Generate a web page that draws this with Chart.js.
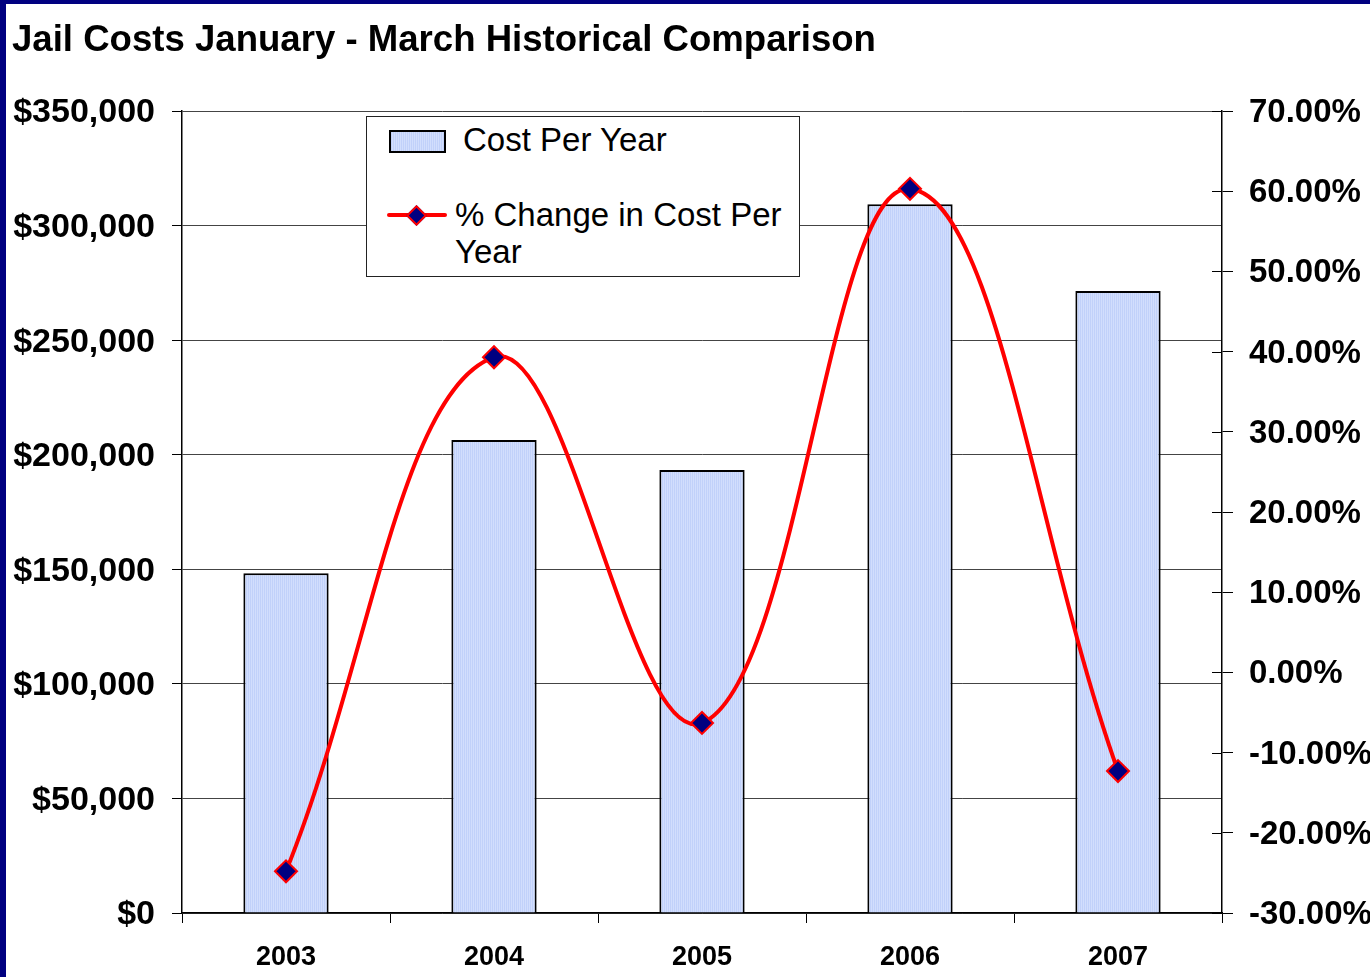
<!DOCTYPE html>
<html>
<head>
<meta charset="utf-8">
<title>Jail Costs January - March Historical Comparison</title>
<script src="https://cdn.jsdelivr.net/npm/chart.js@4.4.1/dist/chart.umd.min.js"></script>
<style>
    html, body { margin: 0; padding: 0; }
    body {
        width: 1370px;
        height: 977px;
        background: #000080;
        position: relative;
        overflow: hidden;
        font-family: "Liberation Sans", Arial, sans-serif;
    }
    #frame {
        position: absolute;
        left: 6px;
        top: 4px;
        width: 1364px;
        height: 973px;
        background: #fff;
        overflow: hidden;
    }
    #title {
        position: absolute;
        left: 6px;
        top: 14px;
        font-weight: bold;
        font-size: 36.6px;
        line-height: 42px;
        color: #000;
        white-space: nowrap;
    }
    #chart-wrap {
        position: absolute;
        left: 0;
        top: 0;
        width: 1364px;
        height: 973px;
    }
    #legend {
        position: absolute;
        left: 360px;
        top: 112px;
        width: 432px;
        height: 159px;
        border: 1px solid #222;
        background: #fff;
        font-size: 33px;
        color: #000;
    }
    .swatch {
        position: absolute;
        left: 22px;
        top: 13px;
        width: 53px;
        height: 19px;
        border: 2px solid #000;
        background: repeating-linear-gradient(90deg, #c1d1fa 0 1px, #d2defd 1px 2px);
    }
    .line-key {
        position: absolute;
        left: 20px;
        top: 96px;
        width: 60px;
        height: 4px;
        background: #ff0000;
        border-radius: 2px;
    }
    .diamond {
        position: absolute;
        left: 42px;
        top: 91px;
        width: 11px;
        height: 11px;
        background: #000080;
        border: 2px solid #ff0000;
        transform: rotate(45deg);
    }
    .legend-text { position: absolute; white-space: nowrap; line-height: 37px; }
</style>
</head>
<body>
<div id="frame">
    <div id="chart-wrap"><canvas id="costChart" width="1364" height="973"></canvas></div>
    <div id="title">Jail Costs January - March Historical Comparison</div>
    <div id="legend">
        <div class="swatch"></div>
        <div class="legend-text" style="left:96px; top:4px;">Cost Per Year</div>
        <div class="line-key"></div>
        <div class="diamond"></div>
        <div class="legend-text" style="left:88px; top:79px;">% Change in Cost Per<br>Year</div>
    </div>
</div>

<script>
// Chart data
const years = ['2003', '2004', '2005', '2006', '2007'];
const costPerYear = [148300, 206400, 193300, 309300, 271400];
const pctChange = [-24.8, 39.3, -6.3, 60.3, -12.3];

const costTicks = [0, 50000, 100000, 150000, 200000, 250000, 300000, 350000];
const pctTicks = [-30, -20, -10, 0, 10, 20, 30, 40, 50, 60, 70];

const FONT = '"Liberation Sans", Arial, sans-serif';

// Finely textured light blue fill, like the old spreadsheet bars
function makeBarPattern() {
    const c = document.createElement('canvas');
    c.width = 2;
    c.height = 2;
    const g = c.getContext('2d');
    g.fillStyle = '#c1d1fa';
    g.fillRect(0, 0, 2, 2);
    g.fillStyle = '#d2defd';
    g.fillRect(1, 0, 1, 2);
    return g.createPattern(c, 'repeat');
}

// Right axis ticks cross the axis line (inner half)
const innerTicks = {
    id: 'innerTicks',
    afterDraw(chart) {
        const s = chart.scales.y1;
        const ctx = chart.ctx;
        ctx.save();
        ctx.strokeStyle = '#000';
        ctx.lineWidth = 1;
        s.ticks.forEach((t, i) => {
            const y = Math.round(s.getPixelForTick(i)) + 0.5;
            ctx.beginPath();
            ctx.moveTo(s.left - 10, y);
            ctx.lineTo(s.left, y);
            ctx.stroke();
        });
        ctx.restore();
    }
};

function init() {
    const ctx = document.getElementById('costChart').getContext('2d');
    new Chart(ctx, {
        type: 'bar',
        data: {
            labels: years,
            datasets: [
                {
                    type: 'line',
                    label: '% Change in Cost Per Year',
                    data: pctChange,
                    yAxisID: 'y1',
                    borderColor: '#ff0000',
                    borderWidth: 4,
                    tension: 0.4,
                    pointStyle: 'rectRot',
                    pointRadius: 11,
                    pointBackgroundColor: '#000080',
                    pointBorderColor: '#ff0000',
                    pointBorderWidth: 2,
                    order: 0
                },
                {
                    type: 'bar',
                    label: 'Cost Per Year',
                    data: costPerYear,
                    yAxisID: 'y',
                    backgroundColor: makeBarPattern(),
                    borderColor: '#000',
                    borderWidth: 2,
                    categoryPercentage: 1,
                    barPercentage: 0.41,
                    order: 1
                }
            ]
        },
        options: {
            responsive: false,
            animation: false,
            events: [],
            layout: { padding: { top: 107, left: 0, right: 0, bottom: 0 } },
            plugins: {
                legend: { display: false },
                title: { display: false },
                tooltip: { enabled: false }
            },
            scales: {
                x: {
                    offset: true,
                    grid: {
                        offset: true,
                        drawOnChartArea: false,
                        tickLength: 10,
                        tickColor: '#000'
                    },
                    border: { color: '#000', width: 1.5 },
                    ticks: {
                        color: '#000',
                        padding: 18,
                        font: { family: FONT, size: 27, weight: 'bold' }
                    },
                    afterFit(scale) { scale.height = 64; }
                },
                y: {
                    position: 'left',
                    min: 0,
                    max: 350000,
                    afterBuildTicks(scale) { scale.ticks = costTicks.map(v => ({ value: v })); },
                    grid: {
                        color: '#444',
                        lineWidth: 1,
                        tickLength: 10,
                        tickColor: '#000'
                    },
                    border: { color: '#000', width: 1.5 },
                    ticks: {
                        color: '#000',
                        padding: 17,
                        labelOffset: 2,
                        font: { family: FONT, size: 34, weight: 'bold' },
                        callback: v => '$' + v.toLocaleString('en-US')
                    },
                    afterFit(scale) { scale.width = 176; }
                },
                y1: {
                    position: 'right',
                    min: -30,
                    max: 70,
                    afterBuildTicks(scale) { scale.ticks = pctTicks.map(v => ({ value: v })); },
                    grid: {
                        drawOnChartArea: false,
                        tickLength: 11,
                        tickColor: '#000'
                    },
                    border: { color: '#000', width: 1.5 },
                    ticks: {
                        color: '#000',
                        padding: 16,
                        labelOffset: 2,
                        font: { family: FONT, size: 33, weight: 'bold' },
                        callback: v => v.toFixed(2) + '%'
                    },
                    afterFit(scale) { scale.width = 148; }
                }
            }
        },
        plugins: [innerTicks]
    });
}

document.addEventListener('DOMContentLoaded', init);
</script>
</body>
</html>
